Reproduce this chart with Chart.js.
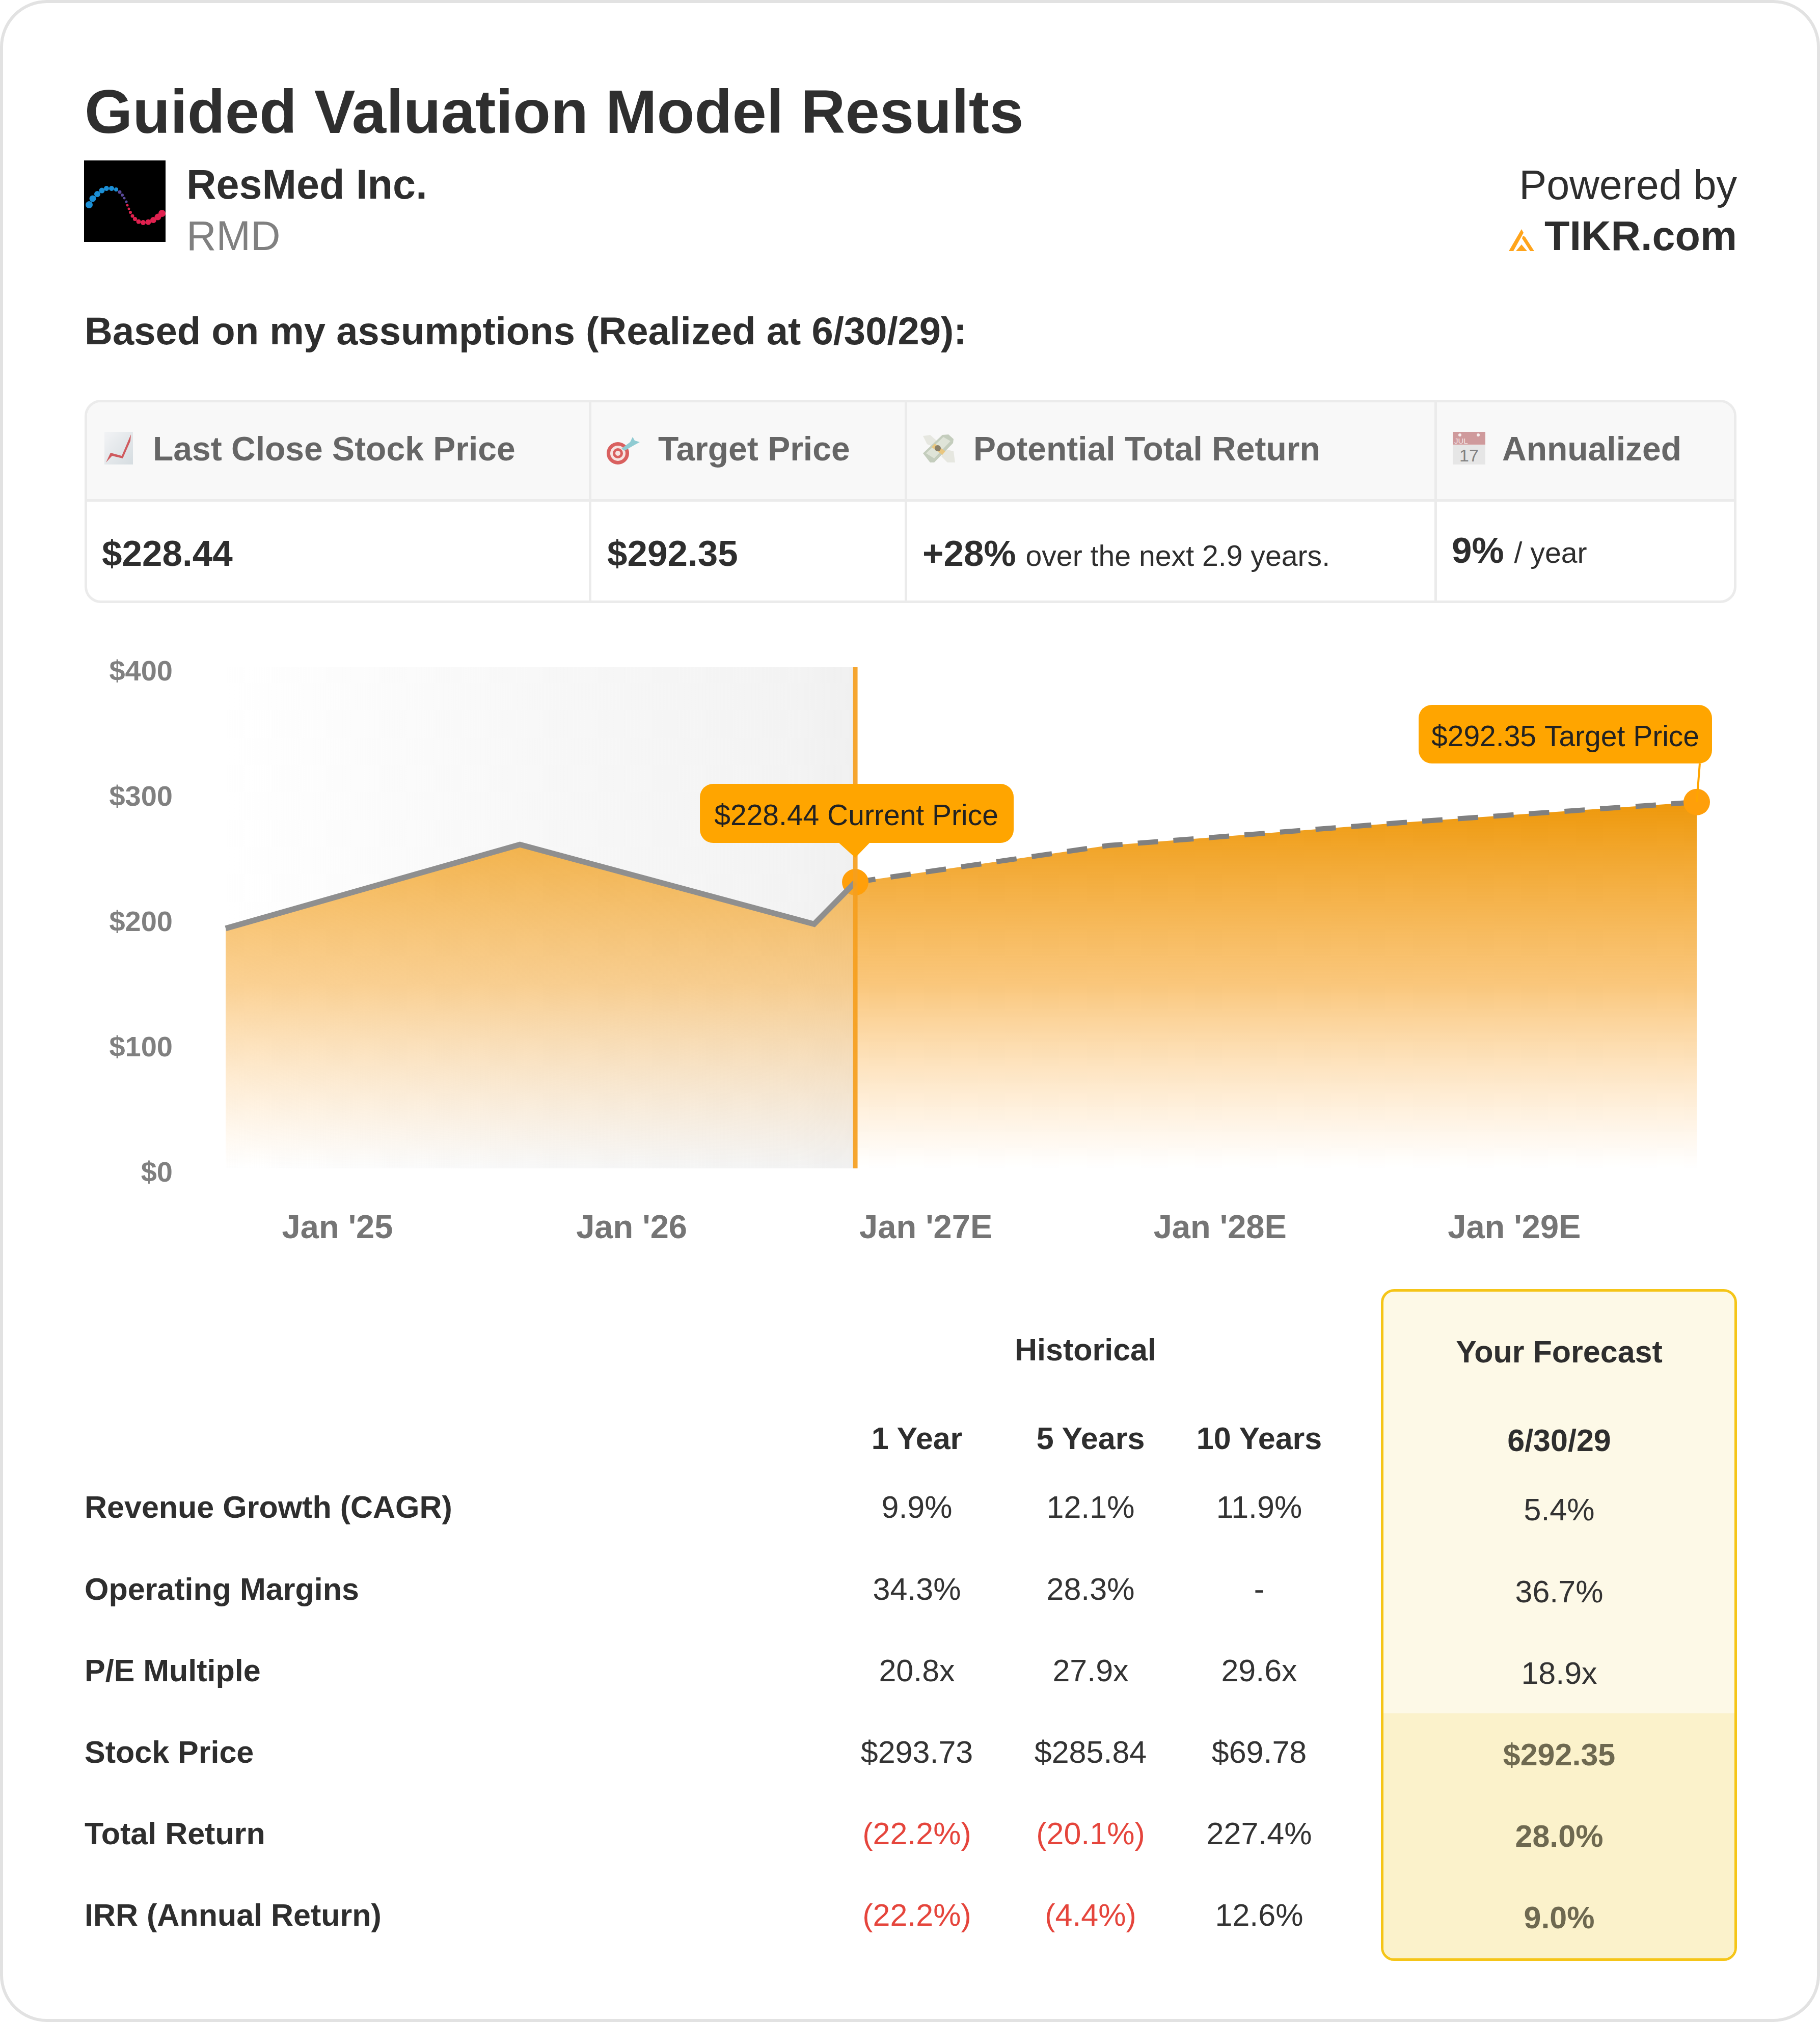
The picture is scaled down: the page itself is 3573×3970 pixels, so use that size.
<!DOCTYPE html>
<html>
<head>
<meta charset="utf-8">
<title>Guided Valuation Model Results</title>
<script src="https://cdn.jsdelivr.net/npm/chart.js@4/dist/chart.umd.min.js"></script>
<style>
html, body { margin: 0; padding: 0; background: #fff; }
body { width: 3573px; height: 3970px; position: relative; overflow: hidden; font-family: "Liberation Sans", Arial, sans-serif; color: #2e2e2e; }
#card { position: absolute; left: 0; top: 0; width: 3573px; height: 3970px; box-sizing: border-box; border: 6px solid #e2e2e2; border-radius: 92px; }
.t { position: absolute; white-space: nowrap; line-height: 1.2; transform: translateY(-50%); }
.c { transform: translate(-50%, -50%); }
.r { transform: translate(-100%, -50%); }
.b { font-weight: bold; }
#stats { position: absolute; left: 166px; top: 785px; width: 3243px; height: 399px; box-sizing: border-box; border: 5px solid #ebebeb; border-radius: 32px; overflow: hidden; }
#statsHead { position: absolute; left: 0; top: 0; right: 0; height: 190px; background: #f8f8f8; border-bottom: 5px solid #ebebeb; }
.div { position: absolute; top: 0; bottom: 0; width: 5px; background: #ebebeb; }
#chartWrap { position: absolute; left: 166px; top: 1260px; width: 3241px; height: 1240px; }
#forecastBox { position: absolute; left: 2711px; top: 2531px; width: 699px; height: 1319px; box-sizing: border-box; border: 5px solid #f5c518; border-radius: 26px; background: #fdf9e7; overflow: hidden; }
#forecastLow { position: absolute; left: 0; right: 0; top: 828px; bottom: 0; background: #fbf2cb; }
svg { position: absolute; }
</style>
</head>
<body>
<div id="card"></div>

<div class="t b" style="left:166px;top:220px;font-size:121.1px;color:#2f2f2f">Guided Valuation Model Results</div>

<svg style="left:165px;top:315px" width="160" height="160" viewBox="0 0 160 160">
  <rect width="160" height="160" fill="#000"/>
  <g id="logoDots"></g>
</svg>
<div class="t b" style="left:366px;top:363px;font-size:81px">ResMed Inc.</div>
<div class="t" style="left:366px;top:464px;font-size:81px;color:#808080">RMD</div>
<div class="t r" style="left:3410px;top:364px;font-size:81px">Powered by</div>
<div class="t b r" style="left:3410px;top:464px;font-size:81px">TIKR.com</div>
<svg style="left:2962px;top:450px" width="50" height="44" viewBox="0 0 50 44">
  <path d="M0 43 L25 0 L29 7 L9 43 Z M14 43 L25 30 L36 43 Z M28 13 L32 15 L50 43 L42 43 L26 18 Z" fill="#ffa41b"/>
</svg>

<div class="t b" style="left:166px;top:650px;font-size:76px">Based on my assumptions (Realized at 6/30/29):</div>

<div id="stats">
  <div id="statsHead"></div>
  <div class="div" style="left:985px"></div>
  <div class="div" style="left:1605px"></div>
  <div class="div" style="left:2645px"></div>
</div>

<svg style="left:205px;top:848px" width="56" height="64" viewBox="0 0 56 64">
  <defs><linearGradient id="gr" x1="0" y1="0" x2="1" y2="1"><stop offset="0" stop-color="#f2f3f5"/><stop offset="1" stop-color="#d6dde1"/></linearGradient></defs>
  <rect width="56" height="64" fill="url(#gr)"/>
  <path d="M3 60 L12 41 L34 47 L52 5 L51 18 L36 52 L15 47 Z" fill="#cf5a5e"/>
</svg>
<svg style="left:1190px;top:856px" width="70" height="60" viewBox="0 0 70 60">
  <circle cx="23" cy="34" r="22" fill="#d9605f"/>
  <circle cx="23" cy="34" r="15" fill="#f6e4e2"/>
  <circle cx="23" cy="34" r="10" fill="#d9605f"/>
  <circle cx="23" cy="34" r="5" fill="#f6e4e2"/>
  <path d="M30 25 L47 12 L52 2 L56 9 L66 12 L55 18 L36 29 Z" fill="#8fcbd2"/>
</svg>
<svg style="left:1812px;top:852px" width="64" height="60" viewBox="0 0 64 60">
  <path d="M0 4 L14 2 L30 16 L22 26 L8 20 Z M44 30 L60 34 L63 56 L48 56 L36 44 Z" fill="#e6e7e0"/>
  <path d="M0 38 L38 2 L50 1 L60 10 L59 18 L22 56 L14 56 Z" fill="#c4cdbd"/>
  <path d="M6 38 L40 6 L54 14 L22 48 Z" fill="#dfe4d8"/>
  <path d="M17 26 L23 19 L44 34 L38 41 Z" fill="#e9c67f"/>
  <circle cx="29" cy="28" r="6" fill="#8a7f68"/>
</svg>
<svg style="left:2852px;top:848px" width="64" height="64" viewBox="0 0 64 64">
  <rect width="64" height="25" fill="#cf9a9c"/>
  <rect y="26" width="64" height="38" fill="#e6e6e6"/>
  <circle cx="14" cy="6" r="3" fill="#f6f0f0"/><circle cx="50" cy="6" r="3" fill="#f6f0f0"/>
  <text x="3" y="23" font-size="15" fill="#f4e6e6" font-family="Liberation Sans">JUL</text>
  <text x="32" y="58" font-size="34" fill="#808080" text-anchor="middle" font-family="Liberation Sans">17</text>
</svg>

<div class="t b" style="left:300px;top:882px;font-size:66px;color:#666">Last Close Stock Price</div>
<div class="t b" style="left:1292px;top:882px;font-size:66px;color:#666">Target Price</div>
<div class="t b" style="left:1911px;top:882px;font-size:66px;color:#666">Potential Total Return</div>
<div class="t b" style="left:2949px;top:882px;font-size:66px;color:#666">Annualized</div>

<div class="t b" style="left:200px;top:1087px;font-size:71px">$228.44</div>
<div class="t b" style="left:1192px;top:1087px;font-size:71px">$292.35</div>
<div class="t" style="left:1811px;top:1087px;font-size:57.2px"><span class="b" style="font-size:71px;margin-right:3px">+28%</span> over the next 2.9 years.</div>
<div class="t" style="left:2850px;top:1081px;font-size:57.2px"><span class="b" style="font-size:71px;margin-right:4px">9%</span> / year</div>

<div id="chartWrap"><canvas id="priceChart" width="3241" height="1240"></canvas></div>

<div id="forecastBox"><div id="forecastLow"></div></div>
<div id="table"></div>

<script>
// chart values, x is in years from the first point
const histX = [0, 1, 2, 2.14];
const histPrice = [191.5, 258.5, 195, 228.44];
const foreX = [2.14, 3, 4, 5];
const forePrice = [228.44, 257.7, 276, 292.35];
const xTickPos = [0.38, 1.38, 2.38, 3.38, 4.38];
const xTickLabels = ["Jan '25", "Jan '26", "Jan '27E", "Jan '28E", "Jan '29E"];
const yTicks = [0, 100, 200, 300, 400];
const currentLabel = "$228.44 Current Price";
const targetLabel = "$292.35 Target Price";

// table values
const rowLabels = ["Revenue Growth (CAGR)", "Operating Margins", "P/E Multiple", "Stock Price", "Total Return", "IRR (Annual Return)"];
const oneYear = ["9.9%", "34.3%", "20.8x", "$293.73", "(22.2%)", "(22.2%)"];
const fiveYears = ["12.1%", "28.3%", "27.9x", "$285.84", "(20.1%)", "(4.4%)"];
const tenYears = ["11.9%", "-", "29.6x", "$69.78", "227.4%", "12.6%"];
const forecast = ["5.4%", "36.7%", "18.9x", "$292.35", "28.0%", "9.0%"];

/* --- logo dots --- */
const dots = [[10,87,7],[17,75,6.5],[26,66,6],[35,59,5.5],[44,55,5],[54,55,5],[63,57,4],[70,62,3.5],[75,68,3],[79,74,2.5],[83,81,2.5],[85,88,2.5],[88,95,2.5],[91,102,3],[95,109,3.5],[100,115,4],[107,120,4.5],[116,122,5],[126,121,5.5],[136,117,6],[145,111,6.5],[153,104,7]];
let dotHtml = "";
dots.forEach(function(d, i){
    const k = i / (dots.length - 1);
    const col = k < 0.3 ? "#1b8fd6" : k < 0.5 ? "#5a4a9a" : "#e0214f";
    dotHtml += '<circle cx="' + d[0] + '" cy="' + d[1] + '" r="' + d[2] + '" fill="' + col + '"/>';
});
document.getElementById("logoDots").innerHTML = dotHtml;

/* --- table --- */
const table = document.getElementById("table");
function put(text, x, y, size, cls, color){
    const el = document.createElement("div");
    el.className = "t " + cls;
    el.textContent = text;
    el.style.left = x + "px";
    el.style.top = y + "px";
    el.style.fontSize = size + "px";
    if(color) el.style.color = color;
    table.appendChild(el);
}
const colX = [1800, 2141, 2472];
const rowY = [2960, 3121, 3281, 3441, 3601, 3761];
const foreY = [2965, 3126, 3286, 3446, 3606, 3766];

put("Historical", 2131, 2651, 61, "c b");
put("1 Year", colX[0], 2825, 61, "c b");
put("5 Years", colX[1], 2825, 61, "c b");
put("10 Years", colX[2], 2825, 61, "c b");
put("Your Forecast", 3061, 2655, 61, "c b");
put("6/30/29", 3061, 2829, 61, "c b");

rowLabels.forEach(function(label, i){
    put(label, 166, rowY[i], 61, "b");
    [oneYear, fiveYears, tenYears].forEach(function(col, j){
        put(col[i], colX[j], rowY[i], 61, "c", col[i].charAt(0) === "(" ? "#e5453c" : "#333");
    });
    if(i < 3){
        put(forecast[i], 3061, foreY[i], 61, "c", "#333");
    } else {
        put(forecast[i], 3061, foreY[i], 61, "c b", "#6e6950");
    }
});

/* --- chart --- */
function fade(chart, alpha){
    const y = chart.scales.y;
    const top = y ? y.getPixelForValue(292.35) : NaN;
    if(!Number.isFinite(top)) return "rgba(245,158,11," + alpha + ")";
    const g = chart.ctx.createLinearGradient(0, top, 0, y.getPixelForValue(0));
    g.addColorStop(0, "rgba(238,152,10," + alpha + ")");
    g.addColorStop(0.5, "rgba(248,180,80," + (alpha * 0.75) + ")");
    g.addColorStop(1, "rgba(255,200,130,0)");
    return g;
}

function roundBox(ctx, x, y, w, h, r){
    ctx.beginPath();
    ctx.roundRect(x, y, w, h, r);
    ctx.fill();
}

const overlay = {
    id: "overlay",
    beforeDatasetsDraw(chart){
        const c = chart.ctx, a = chart.chartArea;
        const nowX = chart.scales.x.getPixelForValue(histX[3]);
        const g = c.createLinearGradient(a.left, 0, nowX, 0);
        g.addColorStop(0, "rgba(240,240,240,0)");
        g.addColorStop(0.5, "rgba(240,240,240,0.5)");
        g.addColorStop(0.9, "rgba(240,240,240,0.78)");
        g.addColorStop(1, "rgba(240,240,240,1)");
        c.fillStyle = g;
        c.fillRect(a.left, a.top, nowX - a.left, a.bottom - a.top);
    },
    afterDatasetsDraw(chart){
        const c = chart.ctx, a = chart.chartArea, sx = chart.scales.x, sy = chart.scales.y;
        const nowX = sx.getPixelForValue(histX[3]);
        const endX = sx.getPixelForValue(foreX[3]);
        const endY = sy.getPixelForValue(forePrice[3]);

        c.save();
        // current price line
        c.strokeStyle = "rgba(245,158,30,0.92)";
        c.lineWidth = 9;
        c.beginPath();
        c.moveTo(nowX, a.top);
        c.lineTo(nowX, a.bottom);
        c.stroke();

        c.fillStyle = "#ffa500";
        // current price tag
        roundBox(c, nowX - 305, 279 , 616, 116, 26);
        c.beginPath();
        c.moveTo(nowX - 32, 395);
        c.lineTo(nowX + 28, 395);
        c.lineTo(nowX, 424);
        c.fill();
        // target price tag
        roundBox(c, endX - 546, 124, 576, 115, 26);
        c.strokeStyle = "#ffa500";
        c.lineWidth = 4;
        c.beginPath();
        c.moveTo(endX + 6, 239);
        c.lineTo(endX, endY);
        c.stroke();

        c.fillStyle = "#222";
        c.font = "57px 'Liberation Sans'";
        c.textAlign = "center";
        c.textBaseline = "middle";
        c.fillText(currentLabel, nowX + 2, 344);
        c.fillText(targetLabel, endX - 258, 189);
        c.restore();
    }
};

const myChart = new Chart(document.getElementById("priceChart"), {
    type: "line",
    data: {
        datasets: [
            {
                data: histX.map(function(x, i){ return {x: x, y: histPrice[i]}; }),
                borderColor: "#8f8f8f",
                borderWidth: 11,
                pointRadius: 0,
                tension: 0,
                fill: "origin",
                clip: false,
                backgroundColor: function(ctx){ return fade(ctx.chart, 0.82); }
            },
            {
                data: foreX.map(function(x, i){ return {x: x, y: forePrice[i]}; }),
                borderColor: "#808080",
                borderWidth: 10,
                borderDash: [40, 30],
                pointRadius: [26, 0, 0, 26],
                pointBackgroundColor: "#ff9f0a",
                pointBorderWidth: 0,
                tension: 0,
                fill: "origin",
                clip: false,
                backgroundColor: function(ctx){ return fade(ctx.chart, 1); }
            }
        ]
    },
    plugins: [overlay],
    options: {
        responsive: false,
        animation: false,
        devicePixelRatio: 1,
        layout: { padding: { top: 50, right: 76 } },
        plugins: { legend: { display: false }, tooltip: { enabled: false } },
        scales: {
            x: {
                type: "linear",
                min: 0,
                max: 5,
                border: { display: false },
                grid: { display: false, drawTicks: false },
                afterBuildTicks: function(scale){ scale.ticks = xTickPos.map(function(v){ return {value: v}; }); },
                afterFit: function(scale){ scale.height = 206; },
                ticks: {
                    autoSkip: false,
                    maxRotation: 0,
                    padding: 80,
                    color: "#757575",
                    font: { family: "Liberation Sans", size: 65, weight: "bold" },
                    callback: function(v, i){ return xTickLabels[i]; }
                }
            },
            y: {
                min: yTicks[0],
                max: yTicks[4],
                border: { display: false },
                grid: { display: false, drawTicks: false },
                afterBuildTicks: function(scale){ scale.ticks = yTicks.map(function(v){ return {value: v}; }); },
                afterFit: function(scale){ scale.width = 277; scale.paddingTop = 0; scale.paddingBottom = 0; },
                ticks: {
                    padding: 104,
                    labelOffset: 11,
                    color: "#808080",
                    font: { family: "Liberation Sans", size: 56, weight: "bold" },
                    callback: function(v){ return "$" + v; }
                }
            }
        }
    }
});
</script>
</body>
</html>
